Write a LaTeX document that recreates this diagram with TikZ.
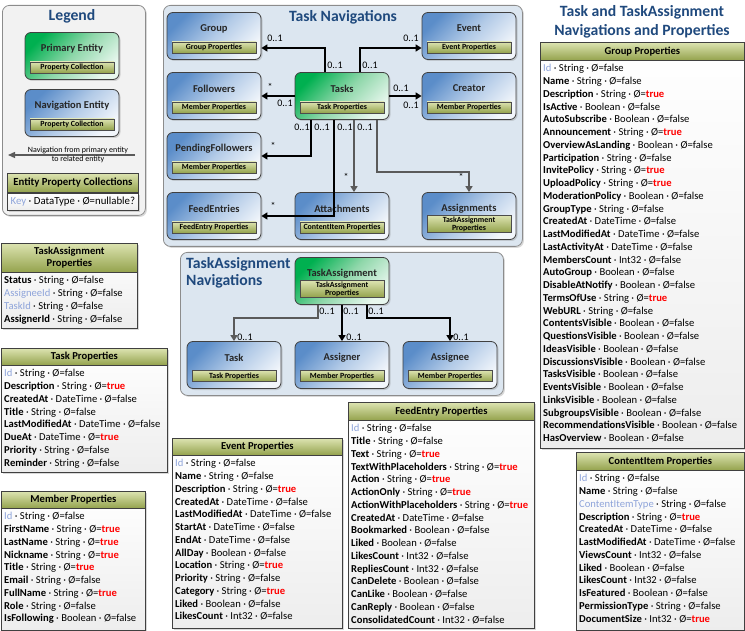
\documentclass[tikz,border=0pt]{standalone}
\usepackage{fontspec}
\setmainfont{Carlito}
\usepackage{tikz}
\usetikzlibrary{arrows.meta, shadows, positioning}

\definecolor{titleblue}{HTML}{1F497D}
\definecolor{keyblue}{HTML}{8EA4DA}
\definecolor{truered}{HTML}{FF0000}
\definecolor{panelfill}{HTML}{DCE6F0}
\definecolor{legendfill}{HTML}{F2F2F2}
\definecolor{navdark}{HTML}{5B8DC9}
\definecolor{navmid}{HTML}{B2CAE7}
\definecolor{navlight}{HTML}{F2F6FB}
\definecolor{primdark}{HTML}{00B050}
\definecolor{primmid}{HTML}{8FD7AA}
\definecolor{primlight}{HTML}{E8F7EE}
\definecolor{olivetop}{HTML}{DCE3B0}
\definecolor{olivebot}{HTML}{93A24C}
\definecolor{linkgray}{HTML}{5A5A5A}

% one row of a property collection
\newcommand{\prow}[3]{\textbf{#1} · #2 · Ø=#3}
\newcommand{\krow}[2]{\textcolor{keyblue}{#1} · #2 · Ø=false}
\newcommand{\istrue}{\textcolor{truered}{\textbf{true}}}

% style, name, x, y, title, property bar, bar offset
\newcommand{\navent}[7]{%
  \node[#1] (#2) at (#3,#4) {};
  \node[navtitle] (#2 title) at ([yshift=7.5pt]#2.center) {#5};
  \node[propbar] (#2 bar) at ([yshift=#7pt]#2.center) {#6};
}
% name, left, top, width, height, header height, header, rows
\newcommand{\proptab}[8]{%
  \node[tabbody, minimum width=#4pt, minimum height=#5pt] (#1) at (#2,#3) {};
  \node[tabhead, minimum width=#4pt, minimum height=#6pt] (#1 head) at (#1.north west) {#7};
  \node[tabrows] (#1 rows) at (#1 head.south west) {#8};
}

\begin{document}
\begin{tikzpicture}[x=1pt, y=-1pt]
  \tikzstyle{panel}=[draw=black!45, line width=.8pt, rounded corners=7pt, anchor=north west, inner sep=0pt,
    drop shadow={shadow xshift=1.5pt, shadow yshift=-1.5pt, opacity=.3}]
  \tikzstyle{navbox}=[draw=black!75, line width=.8pt, rounded corners=6pt, minimum width=94pt, minimum height=47pt,
    top color=navdark, bottom color=navlight, middle color=navmid, shading angle=45,
    drop shadow={shadow xshift=1.5pt, shadow yshift=-1.5pt, opacity=.3}]
  \tikzstyle{primbox}=[navbox, top color=primdark, bottom color=primlight, middle color=primmid, shading angle=45]
  \tikzstyle{navtitle}=[font=\fontsize{10.5}{12}\selectfont\bfseries, text=black!85, inner sep=0pt]
  \tikzstyle{propbar}=[draw=black!70, line width=.6pt, top color=olivetop, bottom color=olivebot,
    minimum width=84pt, minimum height=11pt, inner sep=1pt, align=center, font=\fontsize{7.9}{8}\selectfont\bfseries]
  \tikzstyle{tabbody}=[draw=black!75, line width=.8pt, top color=white, bottom color=black!7, anchor=north west,
    inner sep=0pt, drop shadow={shadow xshift=1.5pt, shadow yshift=-1.5pt, opacity=.3}]
  \tikzstyle{tabhead}=[draw=black!75, line width=.8pt, top color=olivetop, bottom color=olivebot, anchor=north west,
    inner sep=1pt, align=center, font=\fontsize{10.6}{12}\selectfont\bfseries]
  \tikzstyle{tabrows}=[anchor=north west, inner xsep=3pt, inner ysep=3.5pt, align=left, font=\fontsize{10.6}{12.75}\selectfont]
  \tikzstyle{link}=[draw, line width=2pt, -{Triangle[length=6pt,width=7pt]}]
  \tikzstyle{glink}=[link, draw=linkgray]
  \tikzstyle{mult}=[font=\fontsize{10}{11}\selectfont, inner sep=1pt]
  \tikzstyle{bigtitle}=[font=\fontsize{15.7}{17}\selectfont\bfseries, text=titleblue, inner sep=0pt]

  \useasboundingbox (0,0) rectangle (745,631);

  % legend
  \node[panel, fill=legendfill, minimum width=143pt, minimum height=210pt] (legend) at (2,5) {};
  \node[bigtitle] (legend title) at (72,16) {Legend};
  \navent{primbox}{prim}{72}{56}{Primary Entity}{Property Collection}{-11.5}
  \navent{navbox}{nav}{72}{113}{Navigation Entity}{Property Collection}{-11.5}
  \coordinate (legend from) at (135,155);
  \coordinate (legend to) at (8,155);
  \draw[draw=linkgray, line width=1.3pt, -{Triangle[length=7pt,width=6pt]}] (legend from) -- (legend to);
  \node[font=\fontsize{8}{9.5}\selectfont, align=center, inner sep=0pt] (legend text) at (78,155)
    {Navigation from primary entity\\to related entity};
  \node[tabhead, minimum width=131pt, minimum height=19pt, font=\fontsize{10.8}{12}\selectfont\bfseries]
    (epc head) at (7,173) {Entity Property Collections};
  \node[tabbody, minimum width=131pt, minimum height=17pt, font=\fontsize{10.8}{12}\selectfont]
    (epc body) at (epc head.south west) {\textcolor{keyblue}{Key} · DataType · Ø=nullable?};

  % task navigations
  \node[panel, fill=panelfill, minimum width=359pt, minimum height=241pt] (tasknav) at (163,5) {};
  \node[bigtitle] (tasknav title) at (343,17) {Task Navigations};
  \navent{navbox}{group}{214}{36}{Group}{Group Properties}{-11.5}
  \navent{navbox}{event}{469}{36}{Event}{Event Properties}{-11.5}
  \navent{navbox}{followers}{214}{96}{Followers}{Member Properties}{-11.5}
  \navent{primbox}{tasks}{342}{96}{Tasks}{Task Properties}{-11.5}
  \navent{navbox}{creator}{469}{96}{Creator}{Member Properties}{-11.5}
  \navent{navbox}{pending}{214}{156}{PendingFollowers}{Member Properties}{-11.5}
  \navent{navbox}{feed}{214}{216}{FeedEntries}{FeedEntry Properties}{-11.5}
  \navent{navbox}{attach}{342}{216}{Attachments}{ContentItem Properties}{-11.5}
  \navent{navbox}{assign}{469}{216}{Assignments}{TaskAssignment\\Properties}{-8}

  \draw[link] ([xshift=-17pt]tasks.north) |- ([yshift=-12pt]group.east);
  \draw[link] ([xshift=18pt]tasks.north) |- ([yshift=-12pt]event.west);
  \draw[link] (tasks.west) -- (followers.east);
  \draw[link] (tasks.east) -- (creator.west);
  \draw[link] ([xshift=-31pt]tasks.south) |- (pending.east);
  \draw[link] ([xshift=-8pt]tasks.south) |- (feed.east);
  \draw[glink] ([xshift=12pt]tasks.south) -- ([xshift=12pt]attach.north);
  \draw[glink] ([xshift=35pt]tasks.south) -- ++(0,52) -| (assign.north);

  \node[mult] (m group far) at (275,38) {0..1};
  \node[mult] (m group near) at (335,65) {0..1};
  \node[mult] (m event far) at (411,38) {0..1};
  \node[mult] (m event near) at (370,65) {0..1};
  \node[mult] (s followers) at (270,87) {*};
  \node[mult] (m followers) at (285,103) {0..1};
  \node[mult] (m creator near) at (401,88) {0..1};
  \node[mult] (m creator far) at (411,105) {0..1};
  \node[mult] (s pending) at (273,146) {*};
  \node[mult] (s feed) at (273,206) {*};
  \node[mult] (s attach) at (346,177) {*};
  \node[mult] (s assign) at (461,177) {*};
  \foreach \x/\n in {302/pending,322/feed,345/attach,365/assign}
    \node[mult] (m \n) at (\x,127) {0..1};

  % taskassignment navigations
  \node[panel, fill=panelfill, minimum width=323pt, minimum height=143pt] (tanav) at (180,252) {};
  \node[bigtitle, anchor=north west, align=left] (tanav title) at (186,257) {TaskAssignment\\Navigations};
  \navent{primbox}{ta}{342}{281}{TaskAssignment}{TaskAssignment\\Properties}{-8}
  \navent{navbox}{tatask}{234}{365}{Task}{Task Properties}{-11}
  \navent{navbox}{assigner}{342}{365}{Assigner}{Member Properties}{-11}
  \navent{navbox}{assignee}{450}{365}{Assignee}{Member Properties}{-11}

  \draw[glink] ([xshift=-24pt]ta.south) -- ++(0,13) -| (tatask.north);
  \draw[link] (ta.south) -- (assigner.north);
  \draw[link] ([xshift=25pt]ta.south) -- ++(0,13) -| (assignee.north);
  \foreach \x/\n in {327/tatask,351/assigner,376/assignee}
    \node[mult] (m ta \n) at (\x,311) {0..1};
  \foreach \x/\n in {245/tatask,354/assigner,461/assignee}
    \node[mult] (m \n) at (\x,337) {0..1};

  % property collections
  \node[bigtitle, font=\fontsize{15.7}{19}\selectfont\bfseries, align=center] (main title) at (642,22)
    {Task and TaskAssignment\\Navigations and Properties};

  \proptab{taprops}{1}{243}{136}{85}{29}{TaskAssignment\\Properties}{%
    \prow{Status}{String}{false}\\ \krow{AssigneeId}{String}\\ \krow{TaskId}{String}\\
    \prow{AssignerId}{String}{false}}

  \proptab{taskprops}{1}{348}{166}{124}{17}{Task Properties}{%
    \krow{Id}{String}\\ \prow{Description}{String}{\istrue}\\ \prow{CreatedAt}{DateTime}{false}\\
    \prow{Title}{String}{false}\\ \prow{LastModifiedAt}{DateTime}{false}\\ \prow{DueAt}{DateTime}{\istrue}\\
    \prow{Priority}{String}{false}\\ \prow{Reminder}{String}{false}}

  \proptab{memberprops}{1}{491}{144}{139}{17}{Member Properties}{%
    \krow{Id}{String}\\ \prow{FirstName}{String}{\istrue}\\ \prow{LastName}{String}{\istrue}\\
    \prow{Nickname}{String}{\istrue}\\ \prow{Title}{String}{\istrue}\\ \prow{Email}{String}{false}\\
    \prow{FullName}{String}{\istrue}\\ \prow{Role}{String}{false}\\ \prow{IsFollowing}{Boolean}{false}}

  \proptab{eventprops}{172}{438}{170}{190}{17}{Event Properties}{%
    \krow{Id}{String}\\ \prow{Name}{String}{false}\\ \prow{Description}{String}{\istrue}\\
    \prow{CreatedAt}{DateTime}{false}\\ \prow{LastModifiedAt}{DateTime}{false}\\ \prow{StartAt}{DateTime}{false}\\
    \prow{EndAt}{DateTime}{false}\\ \prow{AllDay}{Boolean}{false}\\ \prow{Location}{String}{\istrue}\\
    \prow{Priority}{String}{false}\\ \prow{Category}{String}{\istrue}\\ \prow{Liked}{Boolean}{false}\\
    \prow{LikesCount}{Int32}{false}}

  \proptab{feedprops}{348}{402}{186}{226}{18}{FeedEntry Properties}{%
    \krow{Id}{String}\\ \prow{Title}{String}{false}\\ \prow{Text}{String}{\istrue}\\
    \prow{TextWithPlaceholders}{String}{\istrue}\\ \prow{Action}{String}{\istrue}\\
    \prow{ActionOnly}{String}{\istrue}\\ \prow{ActionWithPlaceholders}{String}{\istrue}\\
    \prow{CreatedAt}{DateTime}{false}\\ \prow{Bookmarked}{Boolean}{false}\\ \prow{Liked}{Boolean}{false}\\
    \prow{LikesCount}{Int32}{false}\\ \prow{RepliesCount}{Int32}{false}\\ \prow{CanDelete}{Boolean}{false}\\
    \prow{CanLike}{Boolean}{false}\\ \prow{CanReply}{Boolean}{false}\\ \prow{ConsolidatedCount}{Int32}{false}}

  \proptab{groupprops}{540}{42}{204}{406}{18}{Group Properties}{%
    \krow{Id}{String}\\ \prow{Name}{String}{false}\\ \prow{Description}{String}{\istrue}\\
    \prow{IsActive}{Boolean}{false}\\ \prow{AutoSubscribe}{Boolean}{false}\\ \prow{Announcement}{String}{\istrue}\\
    \prow{OverviewAsLanding}{Boolean}{false}\\ \prow{Participation}{String}{false}\\
    \prow{InvitePolicy}{String}{\istrue}\\ \prow{UploadPolicy}{String}{\istrue}\\
    \prow{ModerationPolicy}{Boolean}{false}\\ \prow{GroupType}{String}{false}\\ \prow{CreatedAt}{DateTime}{false}\\
    \prow{LastModifiedAt}{DateTime}{false}\\ \prow{LastActivityAt}{DateTime}{false}\\
    \prow{MembersCount}{Int32}{false}\\ \prow{AutoGroup}{Boolean}{false}\\ \prow{DisableAtNotify}{Boolean}{false}\\
    \prow{TermsOfUse}{String}{\istrue}\\ \prow{WebURL}{String}{false}\\ \prow{ContentsVisible}{Boolean}{false}\\
    \prow{QuestionsVisible}{Boolean}{false}\\ \prow{IdeasVisible}{Boolean}{false}\\
    \prow{DiscussionsVisible}{Boolean}{false}\\ \prow{TasksVisible}{Boolean}{false}\\
    \prow{EventsVisible}{Boolean}{false}\\ \prow{LinksVisible}{Boolean}{false}\\
    \prow{SubgroupsVisible}{Boolean}{false}\\ \prow{RecommendationsVisible}{Boolean}{false}\\
    \prow{HasOverview}{Boolean}{false}}

  \proptab{contentprops}{576}{452}{168}{178}{18}{ContentItem Properties}{%
    \krow{Id}{String}\\ \prow{Name}{String}{false}\\ \krow{ContentItemType}{String}\\
    \prow{Description}{String}{\istrue}\\ \prow{CreatedAt}{DateTime}{false}\\
    \prow{LastModifiedAt}{DateTime}{false}\\ \prow{ViewsCount}{Int32}{false}\\ \prow{Liked}{Boolean}{false}\\
    \prow{LikesCount}{Int32}{false}\\ \prow{IsFeatured}{Boolean}{false}\\ \prow{PermissionType}{String}{false}\\
    \prow{DocumentSize}{Int32}{\istrue}}
\end{tikzpicture}
\end{document}
